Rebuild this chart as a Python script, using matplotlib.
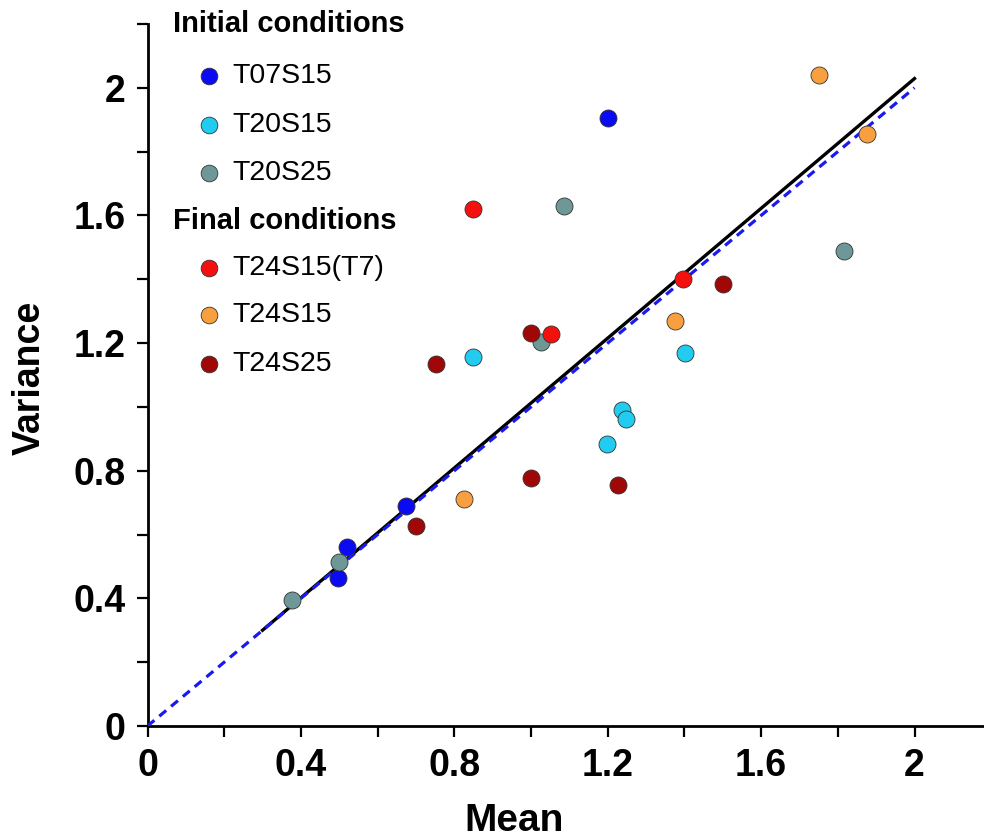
import matplotlib
matplotlib.use("Agg")
import matplotlib.pyplot as plt
import numpy as np

plt.rcParams['font.family'] = ['Liberation Sans', 'DejaVu Sans']

# ---- data ----
groups = ["T07S15", "T20S15", "T20S25", "T24S15(T7)", "T24S15", "T24S25"]
colors = ["#0a0af5", "#22ccf0", "#6e9898", "#f51010", "#f8a040", "#a00808"]

t07s15_mean = [1.20, 0.675, 0.521, 0.498]
t07s15_var = [1.906, 0.689, 0.561, 0.464]

t20s15_mean = [0.849, 1.199, 1.236, 1.249, 1.401]
t20s15_var = [1.157, 0.883, 0.991, 0.963, 1.170]

t20s25_mean = [0.376, 0.499, 1.087, 1.025, 1.816]
t20s25_var = [0.394, 0.514, 1.630, 1.203, 1.489]

t24s15t7_mean = [0.849, 1.051, 1.396]
t24s15t7_var = [1.620, 1.229, 1.401]

t24s15_mean = [1.751, 1.875, 1.375, 0.825]
t24s15_var = [2.040, 1.855, 1.268, 0.710]

t24s25_mean = [1.000, 1.500, 0.751, 1.001, 1.227, 0.700]
t24s25_var = [1.231, 1.386, 1.133, 0.778, 0.756, 0.626]

means = [t07s15_mean, t20s15_mean, t20s25_mean, t24s15t7_mean, t24s15_mean, t24s25_mean]
variances = [t07s15_var, t20s15_var, t20s25_var, t24s15t7_var, t24s15_var, t24s25_var]

fit_x = [0.30, 2.00]
fit_slope = 1.017
fit_intercept = -0.005
identity_x = [0.0, 2.0]

x_ticks = [0, 0.4, 0.8, 1.2, 1.6, 2]
x_tick_labels = ["0", "0.4", "0.8", "1.2", "1.6", "2"]
y_ticks = [0, 0.4, 0.8, 1.2, 1.6, 2]
y_tick_labels = ["0", "0.4", "0.8", "1.2", "1.6", "2"]

# ---- figure ----
W, H = 984, 839
fig = plt.figure(figsize=(W / 100, H / 100), dpi=100)
ax_left = 147.5 / W
ax_bottom = (H - 726) / H
ax_height = (726 - 24) / H
ax_width = 843.7 / W
ax = fig.add_axes([ax_left, ax_bottom, ax_width, ax_height])
ax.set_xlim(0, 2.2)
ax.set_ylim(0, 2.2)

# identity line and fit
ax.plot(identity_x, identity_x, color="#1a1aee", lw=2.3, ls=(0, (2.8, 2.0)), zorder=3)
fx = np.array(fit_x)
ax.plot(fx, fit_slope * fx + fit_intercept, color="black", lw=2.4, zorder=2)

for m, v, c in zip(means, variances, colors):
    ax.scatter(m, v, s=150, color=c, edgecolors="#333333", linewidths=0.6, zorder=4)

for s in ["top", "right"]:
    ax.spines[s].set_visible(False)
for s in ["left", "bottom"]:
    ax.spines[s].set_linewidth(2.0)

ax.set_xticks(np.arange(0, 2.01, 0.2), minor=True)
ax.set_yticks(np.arange(0, 2.21, 0.2), minor=True)
ax.set_xticks(x_ticks)
ax.set_xticklabels(x_tick_labels)
ax.set_yticks(y_ticks)
ax.set_yticklabels(y_tick_labels)
ax.tick_params(which="both", direction="out", length=8, width=1.6)
ax.tick_params(axis="x", labelsize=27, pad=8)
ax.tick_params(axis="y", labelsize=27, pad=8)
for lab in ax.get_xticklabels() + ax.get_yticklabels():
    lab.set_fontweight("bold")

ax.set_xlabel("Mean", fontsize=28, fontweight="bold")
ax.xaxis.set_label_coords((514 - 147.5) / 843.7, (726 - 821) / 702)
ax.xaxis.label.set_va("center")
ax.set_ylabel("Variance", fontsize=27, fontweight="bold")
ax.yaxis.set_label_coords((30 - 147.5) / 843.7, (726 - 378) / 702)
ax.yaxis.label.set_va("center")

# ---- legend (manual, figure pixel coords) ----
def fx_(px):
    return px / W

def fy_(py):
    return 1 - py / H

fig.text(fx_(173), fy_(24.5), "Initial conditions", fontsize=21, fontweight="bold", va="center", ha="left")
fig.text(fx_(173), fy_(221), "Final conditions", fontsize=21, fontweight="bold", va="center", ha="left")
rows_y = [76, 125, 173, 268, 315, 364]
for name, c, ry in zip(groups, colors, rows_y):
    ax.plot([fx_(208.5)], [fy_(ry)], marker="o", ms=12, color=c, mec="#333333", mew=0.6,
            transform=fig.transFigure, clip_on=False, zorder=5)
    fig.text(fx_(232), fy_(ry), name, fontsize=20.5, va="center", ha="left")

fig.savefig("out.png", dpi=100)
